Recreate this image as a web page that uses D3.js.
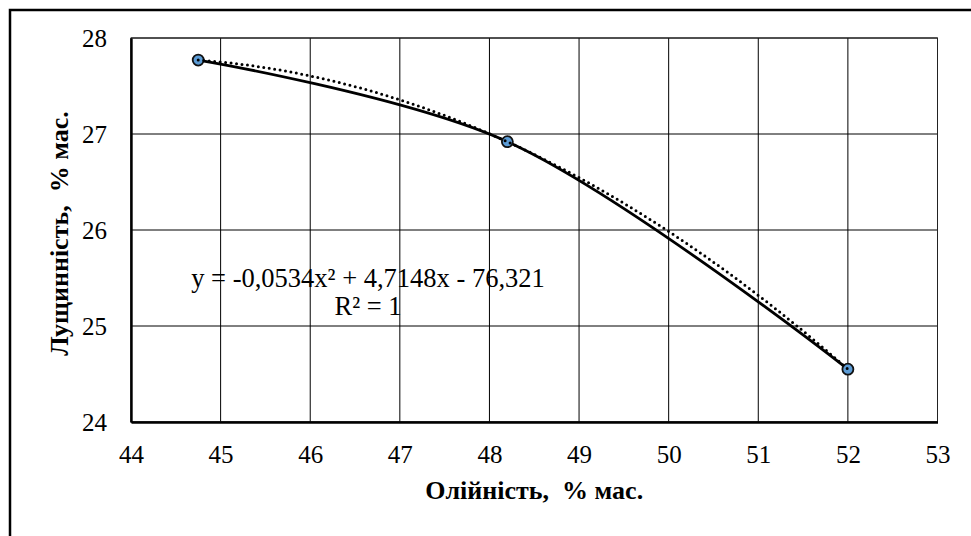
<!DOCTYPE html>
<html>
<head>
<meta charset="utf-8">
<script src="https://cdn.jsdelivr.net/npm/d3@7"></script>
<style>
  html, body { margin: 0; padding: 0; background: #fff; }
  svg { display: block; }
  text { font-family: "Liberation Serif", "Times New Roman", serif; fill: #000; }
</style>
</head>
<body>
<svg id="chart" width="971" height="536"></svg>
<script>
// ---- data ----
const oiliness = [44.75, 48.2, 52.0];        // x: Олійність, % мас.
const huskiness = [27.77, 26.92, 24.55];     // y: Лущинність, % мас.
const xTicks = [44, 45, 46, 47, 48, 49, 50, 51, 52, 53];
const yTicks = [24, 25, 26, 27, 28];
const xTitle = "Олійність,  % мас.";
const yTitle = "Лущинність,  % мас.";
const eqLine1 = "y = -0,0534x² + 4,7148x - 76,321";
const eqLine2 = "R² = 1";

const svg = d3.select("#chart");
const W = 971, H = 536;
const plot = { left: 131, top: 38, right: 937.5, bottom: 422 };

// outer frame (left + top visible)
svg.append("path")
  .attr("d", `M10,${H} L10,10 L${W},10`)
  .attr("fill", "none").attr("stroke", "#000").attr("stroke-width", 2.5);

const x = d3.scaleLinear().domain([44, 53]).range([plot.left, plot.right]);
const y = d3.scaleLinear().domain([24, 28]).range([plot.bottom, plot.top]);

// grid lines
const g = svg.append("g");
g.selectAll(".vg").data(xTicks).join("line")
  .attr("x1", d => x(d)).attr("x2", d => x(d))
  .attr("y1", plot.top).attr("y2", plot.bottom)
  .attr("stroke", "#000").attr("stroke-width", 1);
g.selectAll(".hg").data(yTicks).join("line")
  .attr("x1", plot.left).attr("x2", plot.right)
  .attr("y1", d => y(d)).attr("y2", d => y(d))
  .attr("stroke", "#000").attr("stroke-width", 1);
g.append("rect").attr("x", plot.left).attr("y", plot.top)
  .attr("width", plot.right - plot.left).attr("height", plot.bottom - plot.top)
  .attr("fill", "none").attr("stroke", "#222").attr("stroke-width", 1);

// axes (thicker)
const xAxis = d3.axisBottom(x).tickValues(xTicks).tickSize(0).tickPadding(23).tickFormat(d3.format("d"));
const yAxis = d3.axisLeft(y).tickValues(yTicks).tickSize(0).tickPadding(24).tickFormat(d3.format("d"));
const gx = svg.append("g").attr("transform", `translate(0,${plot.bottom})`).call(xAxis);
const gy = svg.append("g").attr("transform", `translate(${plot.left},0)`).call(yAxis);
[gx, gy].forEach(a => {
  a.select(".domain").attr("stroke", "#000").attr("stroke-width", 2.4);
  a.selectAll("text").style("font-family", "'Liberation Serif', serif").style("font-size", "25px").attr("fill", "#000");
});

// axis titles
svg.append("text").attr("x", (plot.left + plot.right) / 2).attr("y", 499)
  .attr("text-anchor", "middle").style("font-size", "26px").style("font-weight", "bold")
  .style("white-space", "pre").text(xTitle);
svg.append("text").attr("transform", `translate(68,${(102 + 365) / 2}) rotate(-90)`)
  .attr("text-anchor", "middle").style("font-size", "26px").style("font-weight", "bold")
  .style("white-space", "pre").text(yTitle);

const pts = oiliness.map((v, i) => [v, huskiness[i]]);

// smoothed series line
svg.append("path").datum(pts)
  .attr("d", d3.line().x(d => x(d[0])).y(d => y(d[1])).curve(d3.curveCatmullRom.alpha(0.5)))
  .attr("fill", "none").attr("stroke", "#000").attr("stroke-width", 2.8);

// markers
svg.selectAll(".pt").data(pts).join("circle")
  .attr("cx", d => x(d[0])).attr("cy", d => y(d[1])).attr("r", 5.5)
  .attr("fill", "#5B9BD5").attr("stroke", "#111").attr("stroke-width", 1.8);

// polynomial (order 2) trendline through the data points (R² = 1)
function quad(xv) {
  let s = 0;
  for (let i = 0; i < pts.length; i++) {
    let l = 1;
    for (let j = 0; j < pts.length; j++) if (j !== i) l *= (xv - pts[j][0]) / (pts[i][0] - pts[j][0]);
    s += l * pts[i][1];
  }
  return s;
}
const trend = d3.range(0, 81).map(k => {
  const xv = oiliness[0] + (oiliness[2] - oiliness[0]) * k / 80;
  return [xv, quad(xv)];
});
svg.append("path").datum(trend)
  .attr("d", d3.line().x(d => x(d[0])).y(d => y(d[1])))
  .attr("fill", "none").attr("stroke", "#000").attr("stroke-width", 3)
  .attr("stroke-linecap", "round").attr("stroke-dasharray", "0,5.5");

// equation label
svg.append("text").attr("x", 368).attr("y", 287).attr("text-anchor", "middle")
  .style("font-size", "26.5px").text(eqLine1);
svg.append("text").attr("x", 368).attr("y", 315).attr("text-anchor", "middle")
  .style("font-size", "26.5px").text(eqLine2);
</script>
</body>
</html>
